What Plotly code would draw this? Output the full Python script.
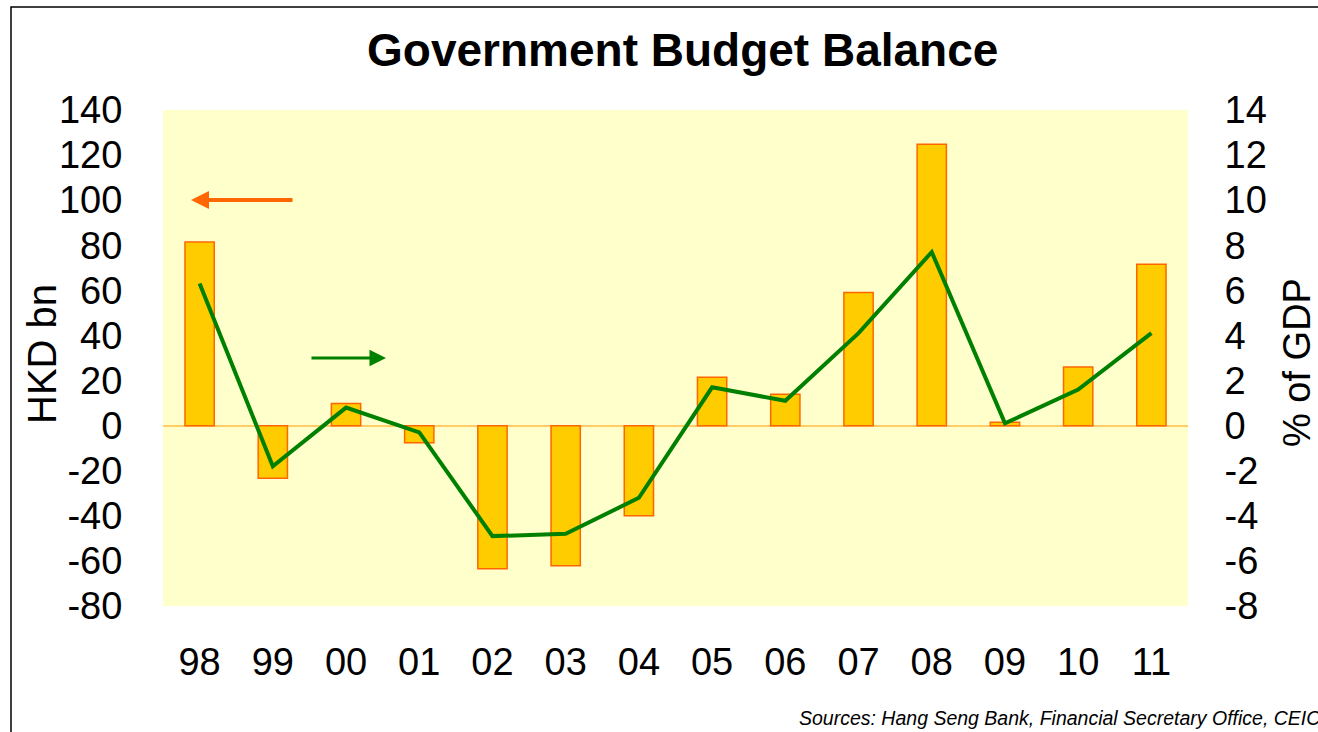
import plotly.graph_objects as go

years = ["98", "99", "00", "01", "02", "03", "04", "05", "06", "07", "08", "09", "10", "11"]
balance_hkd_bn = [81.4, -23.3, 9.8, -7.6, -63.5, -62.2, -40.0, 21.5, 13.9, 59.0, 124.8, 1.5, 26.0, 71.6]
balance_pct_gdp = [6.3, -1.8, 0.8, -0.3, -4.9, -4.8, -3.2, 1.7, 1.1, 4.1, 7.7, 0.1, 1.6, 4.1]
left_ticks = [-80, -60, -40, -20, 0, 20, 40, 60, 80, 100, 120, 140]
right_ticks = [-8, -6, -4, -2, 0, 2, 4, 6, 8, 10, 12, 14]

FONT = "Liberation Sans, Arial, sans-serif"

fig = go.Figure()
fig.add_trace(go.Bar(
    x=years, y=balance_hkd_bn, width=0.4,
    marker=dict(color="#FFCC00", line=dict(color="#FF6600", width=1.5)),
    yaxis="y", showlegend=False,
))
fig.add_trace(go.Scatter(
    x=years, y=balance_pct_gdp, mode="lines",
    line=dict(color="#008000", width=4),
    yaxis="y2", showlegend=False,
))

fig.update_layout(
    width=1318, height=732,
    margin=dict(l=163, r=130, t=110, b=126),
    paper_bgcolor="white", plot_bgcolor="#FFFFCC",
    font=dict(family=FONT, color="black"),
    xaxis=dict(type="category", showgrid=False, showline=False, zeroline=False,
               ticks="outside", ticklen=22, tickcolor="rgba(0,0,0,0)",
               tickfont=dict(size=38, family=FONT)),
    yaxis=dict(range=[-80, 140], tickvals=left_ticks, ticktext=[str(v) for v in left_ticks],
               showgrid=False, showline=False,
               zeroline=True, zerolinecolor="#FFCC66", zerolinewidth=2,
               ticks="outside", ticklen=32, tickcolor="rgba(0,0,0,0)",
               tickfont=dict(size=38, family=FONT)),
    yaxis2=dict(range=[-8, 14], tickvals=right_ticks, ticktext=[str(v) for v in right_ticks],
                overlaying="y", side="right",
                showgrid=False, showline=False, zeroline=False,
                ticks="outside", ticklen=28, tickcolor="rgba(0,0,0,0)",
                tickfont=dict(size=38, family=FONT)),
)

def px(x):
    return (x - 163) / 1025

def py(y):
    return (606 - y) / 496

annotations = [
    dict(text="<b>Government Budget Balance</b>", x=px(682), y=py(50), xref="paper", yref="paper",
         showarrow=False, font=dict(size=46, family=FONT), xanchor="center", yanchor="middle"),
    dict(text="HKD bn", x=px(42), y=py(354), xref="paper", yref="paper", textangle=-90,
         showarrow=False, font=dict(size=40, family=FONT), xanchor="center", yanchor="middle"),
    dict(text="% of GDP", x=px(1297), y=py(363), xref="paper", yref="paper", textangle=-90,
         showarrow=False, font=dict(size=38, family=FONT), xanchor="center", yanchor="middle"),
    dict(text="<i>Sources: Hang Seng Bank, Financial Secretary Office, CEIC</i>", x=px(797), y=py(718),
         xref="paper", yref="paper", showarrow=False, font=dict(size=19.5, family=FONT),
         xanchor="left", yanchor="middle"),
    dict(text="", x=px(191), y=py(200), xref="paper", yref="paper", axref="pixel", ayref="pixel",
         ax=103, ay=0, showarrow=True, arrowhead=2, arrowsize=0.9, arrowwidth=4,
         arrowcolor="#FF6600", standoff=0),
    dict(text="", x=px(386), y=py(358), xref="paper", yref="paper", axref="pixel", ayref="pixel",
         ax=-76, ay=0, showarrow=True, arrowhead=2, arrowsize=1.1, arrowwidth=3,
         arrowcolor="#008000", standoff=0),
]
fig.update_layout(annotations=annotations)

fig.add_shape(type="rect", xref="paper", yref="paper",
              x0=px(11), x1=px(1340), y0=py(760), y1=py(7),
              line=dict(color="black", width=1.5), fillcolor="rgba(0,0,0,0)", layer="below")

fig.write_html("out.html")
